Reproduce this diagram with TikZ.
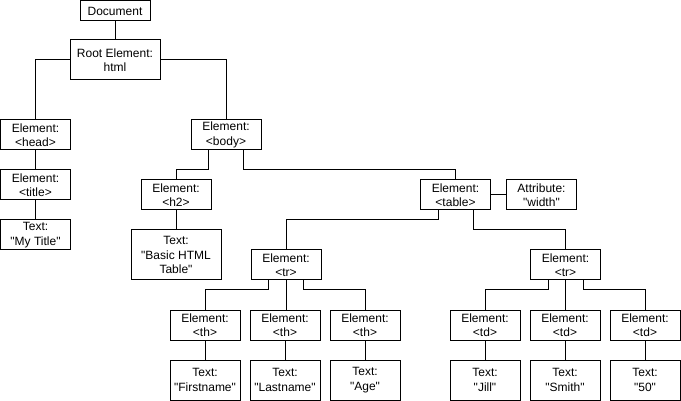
\documentclass[tikz,border=0pt]{standalone}
\usepackage{fontspec}
\setmainfont{Liberation Sans}[Ligatures=TeXOff]
\usepackage{tikz}
\usetikzlibrary{calc,positioning}

\begin{document}
\begin{tikzpicture}[x=1pt,y=-1pt,line width=1pt,
		box/.style={draw,align=center,minimum width=70pt,minimum height=30pt,inner sep=1pt,outer sep=0pt,font=\fontsize{12}{14.4}\selectfont}]
	\useasboundingbox (0,0) rectangle (681,401);
	% top of the tree
	\node[box,minimum height=20pt] (doc) at (115,11) {Document};
	\node[box,minimum width=90pt,minimum height=40pt] (root) at (115,60) {Root Element:\\html};
	\node[box] (head) at (35.5,135) {Element:\\<head>};
	\node[box] (title) at (35.5,185) {Element:\\<title>};
	\node[box] (mytitle) at (35.5,235) {Text:\\"My Title"};
	\node[box] (body) at (226,135) {Element:\\<body>};
	\node[box] (h2) at (176,195) {Element:\\<h2>};
	\node[box,minimum width=90pt,minimum height=50pt] (basic) at (176,255) {Text:\\"Basic HTML\\Table"};
	\node[box] (table) at (455.5,195) {Element:\\<table>};
	\node[box] (attr) at (541.5,195) {Attribute:\\"width"};
	% rows
	\node[box] (tr1) at (286,265) {Element:\\<tr>};
	\node[box] (tr2) at (565.5,265) {Element:\\<tr>};
	\node[box] (th1) at (205,325) {Element:\\<th>};
	\node[box] (th2) at (285,325) {Element:\\<th>};
	\node[box] (th3) at (365,325) {Element:\\<th>};
	\node[box] (td1) at (485,325) {Element:\\<td>};
	\node[box] (td2) at (565,325) {Element:\\<td>};
	\node[box] (td3) at (645,325) {Element:\\<td>};
	\node[box,minimum height=40pt] (first) at (205,380) {Text:\\"Firstname"};
	\node[box,minimum height=40pt] (last) at (285,380) {Text:\\"Lastname"};
	\node[box,minimum height=40pt] (age) at (365,380) {Text:\\"Age"};
	\node[box,minimum height=40pt] (jill) at (485,380) {Text:\\"Jill"};
	\node[box,minimum height=40pt] (smith) at (565,380) {Text:\\"Smith"};
	\node[box,minimum height=40pt] (fifty) at (645,380) {Text:\\"50"};
	% connectors
	\draw (doc) -- (root);
	\draw (root.west) -| (head.north);
	\draw (root.east) -| (body.north);
	\draw (head) -- (title);
	\draw (title) -- (mytitle);
	\draw ($(body.south west)!.25!(body.south east)$) -- ++(0,20) -| (h2.north);
	\draw ($(body.south west)!.75!(body.south east)$) -- ++(0,20) -| (table.north);
	\draw (h2) -- (basic);
	\draw (table) -- (attr);
	\draw ($(table.south west)!.25!(table.south east)$) -- ++(0,10) -| (tr1.north);
	\draw ($(table.south west)!.75!(table.south east)$) -- ++(0,20) -| (tr2.north);
	\draw ($(tr1.south west)!.25!(tr1.south east)$) -- ++(0,10) -| (th1.north);
	\draw (tr1.south) -- (tr1.south |- th2.north);
	\draw ($(tr1.south west)!.75!(tr1.south east)$) -- ++(0,10) -| (th3.north);
	\draw ($(tr2.south west)!.25!(tr2.south east)$) -- ++(0,10) -| (td1.north);
	\draw (tr2.south) -- (tr2.south |- td2.north);
	\draw ($(tr2.south west)!.75!(tr2.south east)$) -- ++(0,10) -| (td3.north);
	\draw (th1) -- (first);
	\draw (th2) -- (last);
	\draw (th3) -- (age);
	\draw (td1) -- (jill);
	\draw (td2) -- (smith);
	\draw (td3) -- (fifty);
\end{tikzpicture}
\end{document}
